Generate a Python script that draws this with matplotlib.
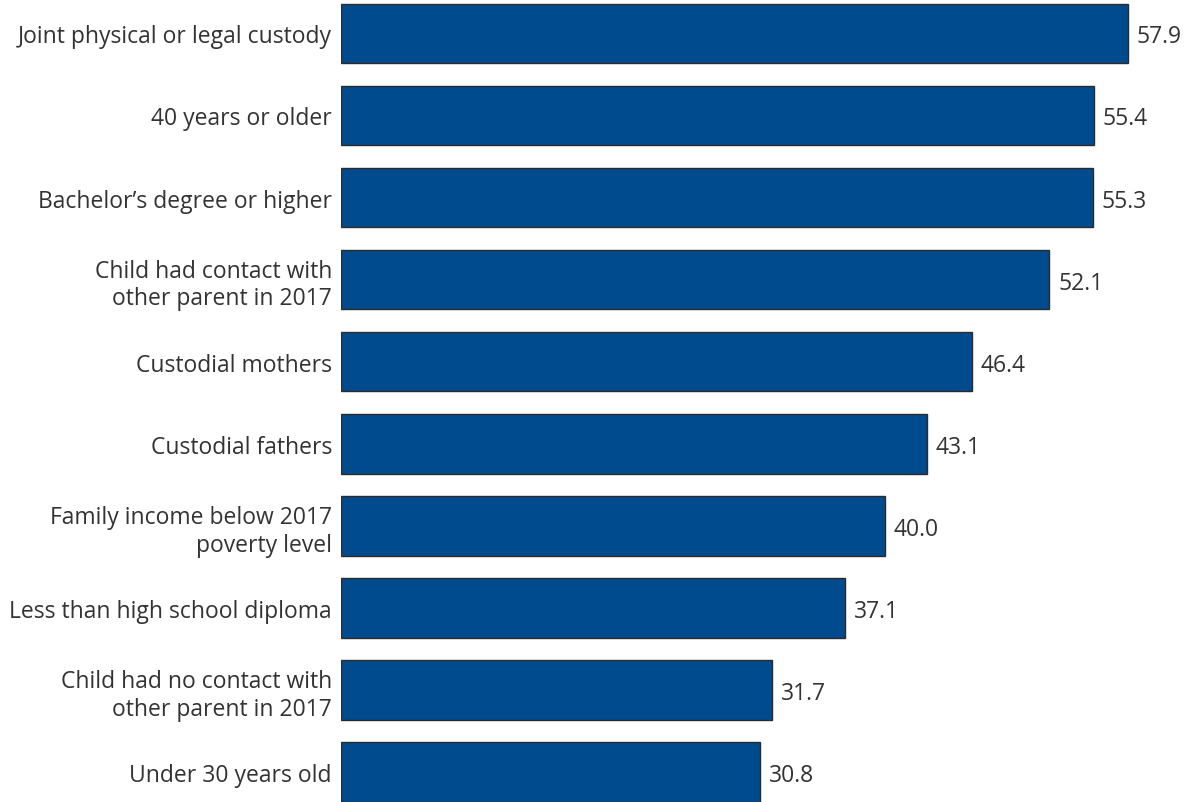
import matplotlib
matplotlib.use("Agg")
import matplotlib.pyplot as plt

categories = [
    "Joint physical or legal custody",
    "40 years or older",
    "Bachelor\u2019s degree or higher",
    "Child had contact with\nother parent in 2017",
    "Custodial mothers",
    "Custodial fathers",
    "Family income below 2017\npoverty level",
    "Less than high school diploma",
    "Child had no contact with\nother parent in 2017",
    "Under 30 years old",
]
values = [57.9, 55.4, 55.3, 52.1, 46.4, 43.1, 40.0, 37.1, 31.7, 30.8]

bar_color = "#004B8D"
text_color = "#333333"

plt.rcParams["font.family"] = ["Open Sans", "DejaVu Sans"]

fig = plt.figure(figsize=(11.86, 8.03), dpi=100)
# axes start where the bars start; no visible spines or ticks
ax = fig.add_axes([341 / 1186, 0, (1186 - 341) / 1186, 1])

pos = list(range(len(categories)))
ax.barh(pos, values, height=0.725, color=bar_color, edgecolor="#2b2b2b", linewidth=1.0)

for p, v in zip(pos, values):
    ax.annotate(f"{v:.1f}", xy=(v, p), xytext=(6.5, 0), textcoords="offset points",
                va="center_baseline", ha="left", fontsize=16.5, color=text_color)

ax.set_xlim(0, (1186 - 341) / 13.59)
ax.set_ylim(9.363, -0.418)
ax.set_yticks(pos)
ax.set_yticklabels(categories, fontsize=16.5, color=text_color, linespacing=1.2)
ax.tick_params(axis="y", length=0, pad=6.5)
ax.set_xticks([])
for s in ax.spines.values():
    s.set_visible(False)

fig.savefig("out.png", dpi=100)
